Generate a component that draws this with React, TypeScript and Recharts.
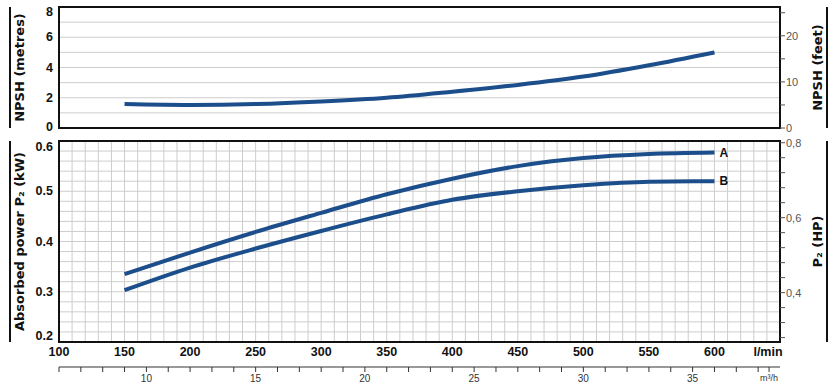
import React from 'react';
import { LineChart, Line, XAxis, YAxis, CartesianGrid, ReferenceArea } from 'recharts';

// flow rate in l/min and the values
const flow = [150, 200, 250, 300, 350, 400, 450, 500, 550, 600];
const npshMetres = [1.58, 1.52, 1.58, 1.75, 2.0, 2.4, 2.85, 3.4, 4.15, 5.0];
const powerA = [0.335, 0.378, 0.419, 0.457, 0.494, 0.525, 0.55, 0.566, 0.574, 0.577];
const powerB = [0.303, 0.348, 0.386, 0.421, 0.454, 0.483, 0.5, 0.512, 0.519, 0.52];

// labelled ticks
const flowLabels = [100, 150, 200, 250, 300, 350, 400, 450, 500, 550, 600];
const npshLabels = [0, 2, 4, 6, 8];
const feetLabels = [0, 10, 20];
const kwLabels = [0.2, 0.3, 0.4, 0.5, 0.6];
const hpLabels = [0.4, 0.6, 0.8];
const m3hLabels = [10, 15, 20, 25, 30, 35];

const M_TO_FT = 3.28084;
const KW_TO_HP = 1.341;
const LMIN_TO_M3H = 0.06;

const range = (from: number, to: number, step: number) => {
  const out: number[] = [];
  for (let i = 0; from + i * step <= to + 1e-9; i++) out.push(Math.round((from + i * step) * 1000) / 1000);
  return out;
};

const gridFlow = range(100, 650, 10);
const gridNpsh = range(0, 8, 1);
const feetTicks = range(0, 25, 5);
const gridKw = range(0.2, 0.6, 0.02);
const hpTicks = range(0.28, 0.8, 0.04);
const m3hTicks = [...range(6, 38, 1), 38.5];

const npshData = flow.map((q, i) => ({ q, npsh: npshMetres[i] }));
const powerData = flow.map((q, i) => ({ q, m3: q * LMIN_TO_M3H, a: powerA[i], b: powerB[i] }));

const BLUE = '#1b4e8b';
const GRID = '#cdcdcd';
const TITLE_FONT = 'DejaVu Sans';
const NUM_FONT = 'Liberation Sans';

const has = (list: number[], v: number) => list.some((x) => Math.abs(x - v) < 1e-6);

const sideTitle = (text: string, textDx: number, lineDx: number) => (props: any) => {
  const { x, y, height } = props.viewBox;
  const cx = x + textDx;
  const cy = y + height / 2;
  return (
    <g>
      <line x1={x + lineDx} x2={x + lineDx} y1={y} y2={y + height} stroke="#111" strokeWidth={2} />
      <text x={cx} y={cy} transform={`rotate(-90 ${cx} ${cy})`} textAnchor="middle" dominantBaseline="central"
        fontFamily={TITLE_FONT} fontWeight="bold" fontSize={13} fill="#111">
        {text}
      </text>
    </g>
  );
};

const leftTick = (labels: number[], top: number, bottom: number, topShift: number, bottomShift: number,
  fmt: (v: number) => string) => (props: any) => {
  const v = props.payload.value;
  if (!has(labels, v)) return <g />;
  let dy = 0;
  if (Math.abs(v - top) < 1e-6) dy = topShift;
  if (Math.abs(v - bottom) < 1e-6) dy = -bottomShift;
  return (
    <text x={props.x} y={props.y + dy} textAnchor="end" dominantBaseline="central"
      fontFamily={NUM_FONT} fontWeight="bold" fontSize={12.5} fill="#111">
      {fmt(v)}
    </text>
  );
};

const rightTick = (labels: number[], fmt: (v: number) => string) => (props: any) => {
  const v = props.payload.value;
  if (!has(labels, v)) return <g />;
  return (
    <text x={props.x} y={props.y} textAnchor="start" dominantBaseline="central"
      fontFamily={NUM_FONT} fontSize={11} fill="#555">
      {fmt(v)}
    </text>
  );
};

const flowTick = (props: any) => {
  const v = props.payload.value;
  if (v === 650) {
    return (
      <text x={props.x - 12} y={props.y + 10} textAnchor="middle" dominantBaseline="central"
        fontFamily={NUM_FONT} fontWeight="bold" fontSize={12.5} fill="#111">l/min</text>
    );
  }
  if (!has(flowLabels, v)) return <g />;
  return (
    <text x={props.x} y={props.y + 10} textAnchor="middle" dominantBaseline="central"
      fontFamily={NUM_FONT} fontWeight="bold" fontSize={12.5} fill="#111">
      {v}
    </text>
  );
};

const m3hTick = (props: any) => {
  const v = props.payload.value;
  return (
    <g>
      <line x1={props.x} x2={props.x} y1={props.y} y2={props.y + 5} stroke="#333" strokeWidth={1} />
      {has(m3hLabels, v) && (
        <text x={props.x} y={props.y + 11} textAnchor="middle" dominantBaseline="central"
          fontFamily={NUM_FONT} fontSize={10} fill="#333">{v}</text>
      )}
      {v === 38.5 && (
        <text x={props.x} y={props.y + 11} textAnchor="middle" dominantBaseline="central"
          fontFamily={NUM_FONT} fontSize={9} fill="#333">m³/h</text>
      )}
    </g>
  );
};

const endLabel = (name: string) => (props: any) => {
  if (props.index !== flow.length - 1) return null;
  const x = props.x ?? props.viewBox?.x;
  const y = props.y ?? props.viewBox?.y;
  return (
    <text x={x + 5} y={y} dominantBaseline="central" fontFamily={NUM_FONT} fontWeight="bold" fontSize={12} fill="#111">
      {name}
    </text>
  );
};

export default function App() {
  return (
    <div style={{ position: 'absolute', left: 0, top: 0, width: 837, height: 388, background: '#fff' }}>
      <div style={{ position: 'absolute', left: 0, top: 0 }}>
        <LineChart width={837} height={135} data={npshData} margin={{ top: 7, right: 0, bottom: 7, left: 0 }}>
          <CartesianGrid stroke={GRID} yAxisId="m" />
          <XAxis dataKey="q" type="number" domain={[100, 650]} allowDataOverflow ticks={gridFlow} interval={0}
            tick={false} tickLine={false} axisLine={false} height={0} />
          <YAxis yAxisId="m" domain={[0, 8]} allowDataOverflow ticks={gridNpsh} interval={0} width={59}
            axisLine={false} tickLine={false} tickSize={0} tickMargin={6}
            tick={leftTick(npshLabels, 8, 0, 5, 1.5, (v) => String(v))}
            label={sideTitle('NPSH (metres)', 19, 10)} />
          <YAxis yAxisId="ft" orientation="right" domain={[0, 8 * M_TO_FT]} allowDataOverflow ticks={feetTicks} interval={0} width={57}
            axisLine={false} tickLine={{ stroke: '#555' }} tickSize={5} tickMargin={1}
            tick={rightTick(feetLabels, (v) => String(v))}
            label={sideTitle('NPSH (feet)', 37, 47)} />
          <ReferenceArea yAxisId="m" x1={100} x2={650} y1={0} y2={8} fill="none" stroke="#111" strokeWidth={2} />
          <Line yAxisId="m" dataKey="npsh" type="monotone" stroke={BLUE} strokeWidth={4} dot={false} isAnimationActive={false} />
        </LineChart>
      </div>
      <div style={{ position: 'absolute', left: 0, top: 135 }}>
        <LineChart width={837} height={253} data={powerData} margin={{ top: 6, right: 0, bottom: 1, left: 0 }}>
          <CartesianGrid stroke={GRID} yAxisId="kw" />
          <XAxis dataKey="q" type="number" domain={[100, 650]} allowDataOverflow ticks={gridFlow} interval={0}
            tick={flowTick} tickLine={false} tickSize={0} tickMargin={0} axisLine={false} height={25} />
          <XAxis xAxisId="m3" dataKey="m3" type="number" domain={[6, 39]} allowDataOverflow ticks={m3hTicks} interval={0}
            tick={m3hTick} tickLine={false} tickSize={0} tickMargin={0} axisLine={{ stroke: '#333' }} height={20} />
          <YAxis yAxisId="kw" domain={[0.2, 0.6]} allowDataOverflow ticks={gridKw} interval={0} width={59}
            axisLine={false} tickLine={false} tickSize={0} tickMargin={6}
            tick={leftTick(kwLabels, 0.6, 0.2, 6, 6.5, (v) => v.toFixed(1))}
            label={sideTitle('Absorbed power P₂ (kW)', 19, 10)} />
          <YAxis yAxisId="hp" orientation="right" domain={[0.2 * KW_TO_HP, 0.6 * KW_TO_HP]} allowDataOverflow ticks={hpTicks} interval={0} width={57}
            axisLine={false} tickLine={{ stroke: '#555' }} tickSize={5} tickMargin={1}
            tick={rightTick(hpLabels, (v) => v.toFixed(1).replace('.', ','))}
            label={sideTitle('P₂ (HP)', 37, 47)} />
          <ReferenceArea yAxisId="kw" x1={100} x2={650} y1={0.2} y2={0.6} fill="none" stroke="#111" strokeWidth={2} />
          <Line yAxisId="kw" dataKey="a" type="monotone" stroke={BLUE} strokeWidth={4} dot={false}
            label={endLabel('A')} isAnimationActive={false} />
          <Line yAxisId="kw" dataKey="b" type="monotone" stroke={BLUE} strokeWidth={4} dot={false}
            label={endLabel('B')} isAnimationActive={false} />
        </LineChart>
      </div>
    </div>
  );
}
